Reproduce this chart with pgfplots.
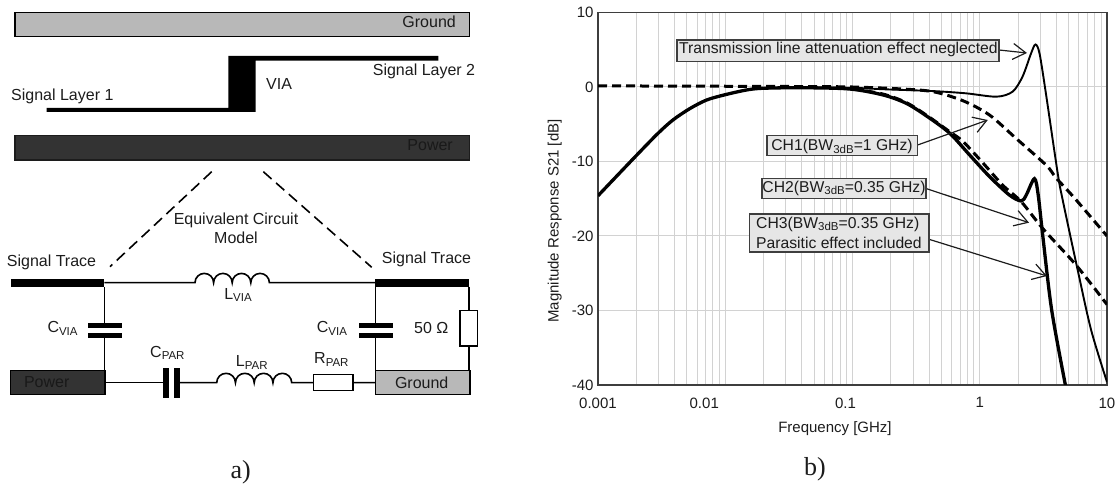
\documentclass[border=0pt]{standalone}
\usepackage{fontspec}
\usepackage{pgfplots}
\pgfplotsset{compat=1.18}
\usetikzlibrary{arrows.meta}
\setmainfont{Liberation Sans}
\newfontfamily\serif{Liberation Serif}
\newcommand{\fs}[1]{\fontsize{#1}{#1}\selectfont}
\newcommand{\sub}[1]{\raisebox{-0.3ex}{\fs{11.5}#1}}
\definecolor{gnd}{HTML}{B8B8B8}
\definecolor{pwr}{HTML}{333333}
\definecolor{ink}{HTML}{1C1C1C}
\definecolor{gridc}{HTML}{D2D2D2}
\definecolor{boxc}{HTML}{E6E6E6}
\begin{document}
\begin{tikzpicture}[x=1pt,y=1pt]
\useasboundingbox (0,0) rectangle (1117,489);
\begin{axis}[
  at={(598pt,104pt)},anchor=south west,scale only axis,width=509pt,height=372.5pt,
  xmode=log,xmin=0.001,xmax=10,ymin=-40,ymax=10,
  log basis x=10,
  xtick={0.001,0.01,0.1,1,10},
  xticklabels={0.001,\kern-21pt 0.01\kern21pt,\kern-7pt 0.1\kern7pt,1,10},
  minor xtick={0.002,0.003,0.004,0.005,0.006,0.007,0.008,0.009,0.02,0.03,0.04,0.05,0.06,0.07,0.08,0.09,0.2,0.3,0.4,0.5,0.6,0.7,0.8,0.9,2,3,4,5,6,7,8,9},
  ytick={-40,-30,-20,-10,0,10},
  yticklabels={-40,-30,-20,-10,0,10},
  grid=both,
  major grid style={gridc,line width=1pt},
  minor grid style={gridc,line width=1pt},
  major tick length=0pt,minor tick length=0pt,
  axis line style={color=ink!85,line width=1.1pt},
  tick label style={font=\fs{15},color=ink},
  x tick label style={yshift=-9pt},
  y tick label style={xshift=-1pt},
  xlabel={Frequency [GHz]},ylabel={Magnitude Response S21 [dB]},
  every axis x label/.style={at={(axis description cs:0.4656,-0.118)},anchor=center,font=\fs{15},color=ink},
  every axis y label/.style={at={(axis description cs:-0.085,0.44)},rotate=90,anchor=center,font=\fs{15},color=ink},
]
% thin: transmission line attenuation neglected
\addplot[black,line width=1.9pt,smooth,tension=0.5] coordinates {
(0.001,-14.6)(0.00195,-9.4)(0.00297,-6.2)(0.0039,-4.4)(0.00527,-2.9)(0.00713,-1.75)(0.0098,-1.07)(0.0147,-0.4)(0.0199,-0.17)(0.04,-0.1)(0.095,-0.1)(0.174,-0.3)(0.43,-0.55)(0.78,-0.85)(1.35,-1.3)(1.81,-0.63)(2.17,1.4)(2.53,4.5)(2.74,5.7)(2.95,4.5)(3.31,-0.85)(4.1,-11.6)(4.49,-15.2)(5.89,-24.6)(7.5,-32.6)(10,-39.6)};
% CH1 dashed
\addplot[black,line width=3pt,dash pattern=on 9pt off 5pt,smooth] coordinates {
(0.001,0.15)(0.01,0.1)(0.05,0.05)(0.1,0)(0.234,-0.25)(0.43,-0.63)(0.737,-1.84)(1.19,-3.75)(1.93,-6.9)(3.33,-10.5)(3.98,-12.2)(5.55,-14.9)(10,-20)};
% CH2 dashed
\addplot[black,line width=3pt,dash pattern=on 9pt off 5pt,smooth] coordinates {
(0.1,-0.25)(0.174,-0.95)(0.265,-2.1)(0.39,-3.9)(0.58,-6.0)(0.737,-7.3)(1.06,-10.2)(1.52,-13.2)(2.12,-15.4)(3.13,-19)(5.71,-23.9)(10,-29.2)};
% CH3 thick
\addplot[black,line width=3.3pt,smooth,tension=0.5] coordinates {
(0.001,-14.6)(0.00195,-9.4)(0.00297,-6.2)(0.0039,-4.4)(0.00527,-2.9)(0.00713,-1.75)(0.0098,-1.07)(0.0147,-0.4)(0.0199,-0.17)(0.04,-0.1)(0.095,-0.27)(0.174,-1.07)(0.265,-2.2)(0.39,-4)(0.58,-6.2)(0.83,-9.1)(1.19,-12)(1.71,-14.5)(2.12,-15.3)(2.32,-14.5)(2.69,-12.3)(2.88,-14.5)(3.13,-20)(3.68,-30)(4.71,-40)};
\end{axis}
\begin{scope}[x=1pt,y=-1pt,yshift=489pt,
  t/.style={inner sep=0pt,text=ink,font=\fs{16}},
  a/.style={inner sep=0pt,text=ink,font=\fs{15.7}},
  w/.style={line width=1.6pt,black}]
% annotations
\draw[line width=1.2pt,ink,-{Straight Barb[length=13pt,width=16pt]}] (999,50) -- (1027,53);
\draw[line width=1.2pt,ink,-{Straight Barb[length=13pt,width=16pt]}] (917.6,145) -- (987.8,120);
\draw[line width=1.2pt,ink,-{Straight Barb[length=13pt,width=16pt]}] (926,188.5) -- (1029,222.7);
\draw[line width=1.2pt,ink,-{Straight Barb[length=13pt,width=16pt]}] (929,239.3) -- (1047,276);
\foreach \a/\b/\c/\d in {677/40/999/61.7,767/135.7/917.6/155.7,762/178.3/926/198.3,749.6/214/929/252}{
  \draw[fill=boxc,draw=ink!85,line width=1.5pt] (\a,\b) rectangle (\c,\d);}
\node[a] at (838.4,49.3) {Transmission line attenuation effect neglected};
\node[a] at (842,146.7) {CH1(BW\sub{3dB}=1 GHz)};
\node[a] at (844,188.3) {CH2(BW\sub{3dB}=0.35 GHz)};
\node[a,anchor=west] at (756,224) {CH3(BW\sub{3dB}=0.35 GHz)};
\node[a,anchor=west] at (756,243.3) {Parasitic effect included};
% a) layout
\draw[fill=gnd,draw=black,line width=1.5pt] (15,12.5) rectangle (469.5,36.5);
\node[t,anchor=east] at (456,21.7) {Ground};
\fill[black] (46.7,108) -- (228.3,108) -- (228.3,56) -- (438.3,56) -- (438.3,60.7) -- (255.7,60.7) -- (255.7,112) -- (46.7,112) -- cycle;
\node[t] at (424,71.7) {Signal Layer 2};
\node[t,anchor=west] at (266,84) {VIA};
\node[t,anchor=west] at (11,96) {Signal Layer 1};
\draw[fill=pwr,draw=ink,line width=1.2pt] (15,135.5) rectangle (469.5,160);
\node[t,anchor=east,text=black!90] at (453,145) {Power};
\draw[line width=1.6pt,dash pattern=on 11pt off 6pt] (211.7,171.7) -- (110,266.7);
\draw[line width=1.6pt,dash pattern=on 11pt off 6pt] (263.3,171.7) -- (371.7,267.3);
\node[t] at (236,220.7) {Equivalent Circuit};
\node[t] at (236,237.3) {Model};
% a) circuit
\node[t,anchor=west] at (6.7,262.3) {Signal Trace};
\node[t,anchor=west] at (381.7,259) {Signal Trace};
\fill[black] (11,279) rectangle (104.3,287);
\fill[black] (375.3,279) rectangle (469,287);
\draw[w] (104.3,282.7) -- (195,282.7)
  arc[start angle=180,end angle=360,radius=9.3] arc[start angle=180,end angle=360,radius=9.3]
  arc[start angle=180,end angle=360,radius=9.3] arc[start angle=180,end angle=360,radius=9.3]
  -- (375.3,282.7);
\node[t] at (238,295) {L\sub{VIA}};
\draw[w] (104.3,287) -- (104.3,370);
\draw[w] (375.3,287) -- (375.3,370);
\fill[white] (88,327.5) rectangle (122,333);
\fill[white] (359,327.5) rectangle (393,333);
\fill[black] (88.3,323.3) rectangle (122.3,327.8);
\fill[black] (88.3,333) rectangle (122.3,337.7);
\fill[black] (359.3,323.3) rectangle (392.7,327.8);
\fill[black] (359.3,333) rectangle (392.7,337.7);
\node[t,anchor=west] at (47.3,328.3) {C\sub{VIA}};
\node[t,anchor=west] at (316.7,328.3) {C\sub{VIA}};
\draw[w] (469,287) -- (469,370);
\draw[w,fill=white] (460,310.7) rectangle (477.3,346);
\node[t,anchor=west] at (414,327.7) {50 Ω};
\draw[fill=pwr,draw=black,line width=1.5pt] (10.5,370.5) rectangle (105,394.5);
\node[t,text=black!90] at (46.7,381.7) {Power};
\draw[fill=gnd,draw=black,line width=1.5pt] (375.5,370.5) rectangle (470,394.5);
\node[t] at (421.7,382.3) {Ground};
\draw[w] (105,382.7) -- (166,382.7);
\fill[black] (163.3,368.3) rectangle (169,398.3);
\fill[black] (174.3,368.3) rectangle (180,398.3);
\draw[w] (178,382.7) -- (216.7,382.7)
  arc[start angle=180,end angle=360,radius=9.375] arc[start angle=180,end angle=360,radius=9.375]
  arc[start angle=180,end angle=360,radius=9.375] arc[start angle=180,end angle=360,radius=9.375]
  -- (375.3,382.7);
\draw[w,fill=white] (313.3,374.7) rectangle (352.7,390.7);
\node[t,anchor=west] at (150,353) {C\sub{PAR}};
\node[t,anchor=west] at (235.7,362.7) {L\sub{PAR}};
\node[t,anchor=west] at (314,359.3) {R\sub{PAR}};
\node[inner sep=0pt,font=\serif\fs{26},text=ink] at (240.7,472) {a)};
\node[inner sep=0pt,font=\serif\fs{26},text=ink] at (815,469) {b)};
\end{scope}
\end{tikzpicture}
\end{document}
